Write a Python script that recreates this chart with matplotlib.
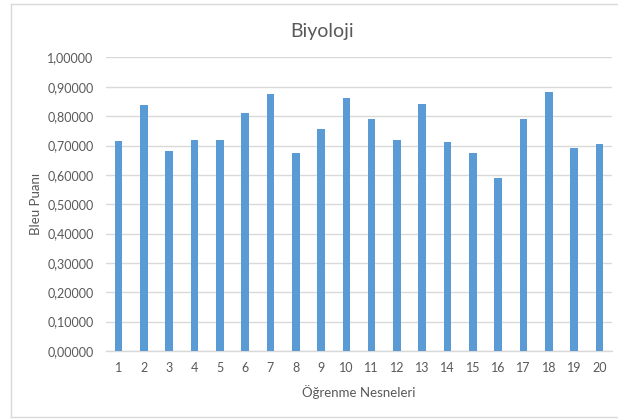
import matplotlib
matplotlib.use("Agg")
import matplotlib.pyplot as plt
from matplotlib.lines import Line2D
from matplotlib.ticker import FuncFormatter, MultipleLocator

plt.rcParams['font.family'] = ['Lato', 'DejaVu Sans']

categories = [str(i) for i in range(1, 21)]
values = [0.716, 0.838, 0.683, 0.719, 0.719, 0.812, 0.876, 0.675, 0.757, 0.863,
          0.790, 0.719, 0.842, 0.712, 0.675, 0.591, 0.790, 0.883, 0.690, 0.705]
title = "Biyoloji"
xlabel = "Öğrenme Nesneleri"
ylabel = "Bleu Puanı"

text_color = "#595959"
bar_color = "#5b9bd5"
grid_color = "#d9d9d9"

W, H = 618, 419
fig = plt.figure(figsize=(W / 100, H / 100), dpi=100)
ax = fig.add_axes([106 / W, 1 - 351 / H, (612 - 106) / W, (351 - 57.5) / H])

x = list(range(len(categories)))
ax.bar(x, values, width=0.3, color=bar_color, zorder=3)

ax.set_xlim(-0.5, len(categories) - 0.5)
ax.set_ylim(0, 1.0)
ax.yaxis.set_major_locator(MultipleLocator(0.1))
ax.yaxis.set_major_formatter(FuncFormatter(lambda v, p: f"{v:.5f}".replace(".", ",")))
ax.set_xticks(x)
ax.set_xticklabels(categories)

ax.grid(axis='y', color=grid_color, linewidth=1, zorder=0)
for s in ['top', 'right', 'left']:
    ax.spines[s].set_visible(False)
ax.spines['bottom'].set_color(grid_color)
ax.spines['bottom'].set_linewidth(1)

ax.tick_params(axis='both', length=0, labelsize=9, colors=text_color)
ax.tick_params(axis='y', pad=9)
ax.tick_params(axis='x', pad=8)

ax.set_xlabel(xlabel, fontsize=9.5, color=text_color, labelpad=8)
ax.set_ylabel(ylabel, fontsize=9.5, color=text_color)
ax.yaxis.set_label_coords((42 - 106) / (612 - 106), 0.5)

fig.text(322 / W, 1 - 32 / H, title, fontsize=14, color=text_color, ha='center', va='center')

# chart frame
fc = "#d9d9d9"
fig.add_artist(Line2D([11 / W, 11 / W], [2 / H, 1 - 4 / H], color=fc, lw=1, transform=fig.transFigure))
fig.add_artist(Line2D([11 / W, 1], [1 - 4 / H, 1 - 4 / H], color=fc, lw=1, transform=fig.transFigure))
fig.add_artist(Line2D([11 / W, 1], [2 / H, 2 / H], color=fc, lw=1, transform=fig.transFigure))

fig.savefig("out.png", dpi=100)
